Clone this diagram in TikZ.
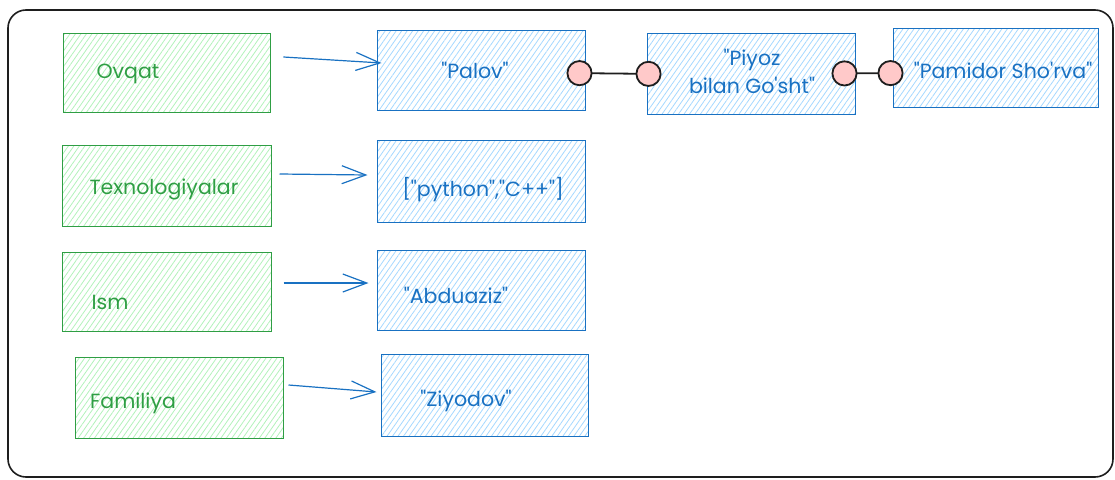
\documentclass[tikz,border=0pt]{standalone}
\usepackage{fontspec}
\usepackage{xcolor}
\usepackage{tikz}
\usetikzlibrary{arrows.meta,positioning,patterns.meta}
\newfontfamily\handfont{Poppins}
\definecolor{keygreen}{HTML}{2F9E44}
\definecolor{keyhatch}{HTML}{B2F2BB}
\definecolor{valblue}{HTML}{1971C2}
\definecolor{valhatch}{HTML}{A5D8FF}
\definecolor{dotpink}{HTML}{FFC9C9}
\definecolor{framegray}{HTML}{1E1E1E}
\tikzstyle{keybox} = [rectangle, draw=keygreen, line width=1pt, pattern={Lines[angle=55,distance=4.5pt,line width=0.8pt]}, pattern color=keyhatch, minimum width=208pt, minimum height=80pt, inner sep=0pt]
\tikzstyle{valbox} = [rectangle, draw=valblue, line width=1pt, pattern={Lines[angle=55,distance=4.5pt,line width=0.8pt]}, pattern color=valhatch, minimum width=208pt, minimum height=80pt, inner sep=0pt]
\tikzstyle{keytext} = [draw=none, fill=none, text=keygreen, font=\handfont\fontsize{20.5}{24}\selectfont, inner sep=0pt]
\tikzstyle{valtext} = [draw=none, fill=none, text=valblue, font=\handfont\fontsize{20.5}{28}\selectfont, inner sep=0pt, align=center]
\tikzstyle{kvedge} = [draw, line width=1.2pt, valblue, -{Straight Barb[length=24pt,width=18pt]}]
\tikzstyle{dotedge} = [draw, line width=1.8pt, framegray, {Circle[length=26pt,fill=dotpink]}-{Circle[length=26pt,fill=dotpink]}]

\begin{document}
\begin{tikzpicture}[x=1pt, y=-1pt]
\useasboundingbox (0,0) rectangle (1115,479);

% frame ==================================
\draw[framegray, line width=1.6pt, rounded corners=18pt] (8,10) rectangle (1113,477);

% keys
\node[keybox, minimum width=207pt, minimum height=79pt] (ovqat) at (166.5,72.5) {};
\node[keybox, minimum width=209pt, minimum height=81pt] (texno) at (166.5,185.5) {};
\node[keybox, minimum width=209pt, minimum height=79pt] (ism) at (166.5,291.5) {};
\node[keybox, minimum height=81pt] (familiya) at (179,397.5) {};

% values
\node[valbox] (palov) at (481,70) {};
\node[valbox, minimum height=82pt] (python) at (481,181) {};
\node[valbox] (abduaziz) at (481,290) {};
\node[valbox, minimum width=207pt, minimum height=82pt] (ziyodov) at (484.5,395) {};
\node[valbox, minimum height=81pt] (piyoz) at (751,73.5) {};
\node[valbox, minimum width=205pt, minimum height=79pt] (pamidor) at (995.5,67.5) {};

% texts
\node[keytext] (tovqat) at (128,74) {Ovqat};
\node[keytext] (ttexno) at (164,189) {Texnologiyalar};
\node[keytext] (tism) at (110,302) {Ism};
\node[keytext] (tfamiliya) at (133,403) {Familiya};
\node[valtext] (tpalov) at (475,70) {"Palov"};
\node[valtext] (tpython) at (483,190) {["python","C++"]};
\node[valtext] (tabduaziz) at (456,295) {"Abduaziz"};
\node[valtext] (tziyodov) at (466,401) {"Ziyodov"};
\node[valtext] (tpiyoz) at (752,71) {"Piyoz\\bilan Go'sht"};
\node[valtext] (tpamidor) at (1003,70) {"Pamidor Sho'rva"};

% edges
\path[kvedge] ([xshift=13pt,yshift=15.5pt]ovqat.east) -- ([xshift=5pt,yshift=7pt]palov.west);
\path[kvedge] ([xshift=8pt,yshift=11.5pt]texno.east) -- ([xshift=-9pt,yshift=6pt]python.west);
\path[kvedge] ([xshift=12pt,yshift=8.5pt]ism.east) -- ([xshift=-8pt,yshift=7pt]abduaziz.west);
\path[kvedge] ([xshift=5pt,yshift=12.5pt]familiya.east) -- ([xshift=-4pt,yshift=3pt]ziyodov.west);

% list links
\path[dotedge] ([xshift=-19pt,yshift=-3pt]palov.east) -- ([xshift=15pt,yshift=-0.5pt]piyoz.west);
\path[dotedge] ([xshift=-24pt]piyoz.east) -- ([xshift=11pt,yshift=-5.5pt]pamidor.west);

\end{tikzpicture}
\end{document}
